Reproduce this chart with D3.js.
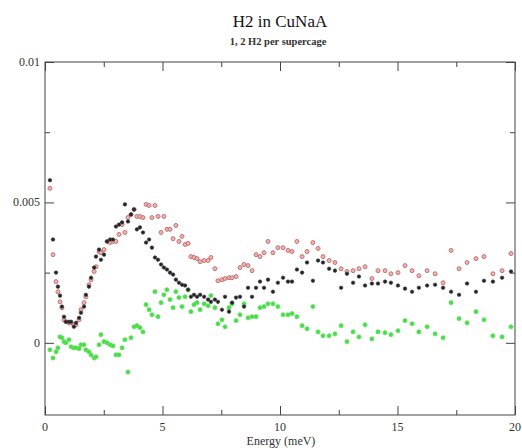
<!DOCTYPE html>
<html>
<head>
<meta charset="utf-8">
<script src="https://cdn.jsdelivr.net/npm/d3@7"></script>
<style>
  body { margin: 0; background: #fff; }
  svg { display: block; }
</style>
</head>
<body>
<svg id="chart" width="522" height="448"></svg>
<script>
// energy grid (meV), shared by the three runs
const energy = [
  0.21, 0.34, 0.47, 0.55, 0.64, 0.72, 0.81, 0.89, 1.02, 1.11,
  1.23, 1.32, 1.45, 1.53, 1.66, 1.74, 1.87, 1.96, 2.09, 2.17,
  2.30, 2.38, 2.51, 2.64, 2.77, 2.89, 3.02, 3.15, 3.28, 3.40,
  3.53, 3.66, 3.79, 3.91, 4.04, 4.17, 4.30, 4.43, 4.55, 4.68,
  4.81, 4.94, 5.06, 5.19, 5.32, 5.45, 5.57, 5.70, 5.83, 5.96,
  6.09, 6.21, 6.34, 6.47, 6.60, 6.77, 6.94, 7.06, 7.23, 7.36,
  7.53, 7.66, 7.83, 7.96, 8.13, 8.30, 8.47, 8.64, 8.81, 8.98,
  9.15, 9.32, 9.49, 9.70, 9.91, 10.13, 10.34, 10.51, 10.72, 10.94,
  11.15, 11.40, 11.62, 11.83, 12.09, 12.34, 12.60, 12.85, 13.11, 13.36,
  13.62, 13.91, 14.17, 14.47, 14.72, 15.02, 15.32, 15.62, 15.91, 16.26,
  16.60, 16.94, 17.28, 17.62, 17.96, 18.34, 18.68, 19.06, 19.45, 19.83
];

const blackValues = [
  0.00579, 0.00368, 0.00250, 0.00200, 0.00168, 0.00129, 0.00093, 0.00075, 0.00075, 0.00075,
  0.00057, 0.00071, 0.00089, 0.00107, 0.00129, 0.00171, 0.00200, 0.00232, 0.00268, 0.00307,
  0.00332, 0.00296, 0.00314, 0.00361, 0.00368, 0.00368, 0.00414, 0.00421, 0.00429, 0.00493,
  0.00432, 0.00457, 0.00475, 0.00404, 0.00411, 0.00393, 0.00357, 0.00368, 0.00339, 0.00304,
  0.00296, 0.00279, 0.00268, 0.00261, 0.00250, 0.00243, 0.00225, 0.00214, 0.00207, 0.00204,
  0.00189, 0.00164, 0.00171, 0.00164, 0.00171, 0.00164, 0.00154, 0.00146, 0.00154, 0.00146,
  0.00118, 0.00164, 0.00111, 0.00143, 0.00161, 0.00164, 0.00129, 0.00196, 0.00164, 0.00196,
  0.00218, 0.00196, 0.00225, 0.00182, 0.00214, 0.00232, 0.00218, 0.00218, 0.00261, 0.00250,
  0.00286, 0.00221, 0.00293, 0.00286, 0.00264, 0.00257, 0.00196, 0.00246, 0.00214, 0.00236,
  0.00204, 0.00211, 0.00211, 0.00218, 0.00214, 0.00204, 0.00193, 0.00182, 0.00196, 0.00204,
  0.00207, 0.00196, 0.00182, 0.00171, 0.00211, 0.00182, 0.00221, 0.00218, 0.00232, 0.00254
];

const redValues = [
  0.00550, 0.00314, 0.00218, 0.00182, 0.00146, 0.00125, 0.00082, 0.00075, 0.00071, 0.00071,
  0.00064, 0.00064, 0.00082, 0.00118, 0.00143, 0.00164, 0.00207, 0.00225, 0.00254, 0.00271,
  0.00325, 0.00321, 0.00332, 0.00361, 0.00357, 0.00361, 0.00361, 0.00386, 0.00421, 0.00393,
  0.00446, 0.00457, 0.00475, 0.00450, 0.00450, 0.00446, 0.00493, 0.00489, 0.00446, 0.00489,
  0.00450, 0.00393, 0.00450, 0.00404, 0.00404, 0.00371, 0.00418, 0.00361, 0.00379, 0.00350,
  0.00354, 0.00307, 0.00304, 0.00300, 0.00289, 0.00293, 0.00293, 0.00304, 0.00264, 0.00221,
  0.00225, 0.00229, 0.00232, 0.00232, 0.00236, 0.00268, 0.00279, 0.00275, 0.00257, 0.00314,
  0.00307, 0.00321, 0.00361, 0.00321, 0.00339, 0.00339, 0.00329, 0.00325, 0.00361, 0.00307,
  0.00325, 0.00357, 0.00336, 0.00307, 0.00293, 0.00286, 0.00264, 0.00254, 0.00257, 0.00264,
  0.00271, 0.00229, 0.00257, 0.00257, 0.00246, 0.00250, 0.00275, 0.00257, 0.00239, 0.00257,
  0.00246, 0.00214, 0.00329, 0.00264, 0.00286, 0.00300, 0.00307, 0.00246, 0.00257, 0.00318
];

const greenValues = [
  -0.00025, -0.00054, -0.00032, -0.00018, 0.00021, 0.00018, 0.00004, 0.00000, 0.00011, -0.00014,
  -0.00018, -0.00018, -0.00021, -0.00007, -0.00007, -0.00025, -0.00032, -0.00043, -0.00054, -0.00050,
  -0.00007, 0.00029, 0.00004, 0.00000, -0.00007, -0.00011, -0.00043, -0.00043, -0.00018, 0.00011,
  -0.00104, 0.00018, 0.00057, 0.00061, 0.00054, 0.00039, 0.00136, 0.00118, 0.00100, 0.00182,
  0.00093, 0.00143, 0.00171, 0.00189, 0.00154, 0.00125, 0.00182, 0.00161, 0.00129, 0.00164,
  0.00189, 0.00111, 0.00136, 0.00143, 0.00118, 0.00139, 0.00132, 0.00168, 0.00125, 0.00068,
  0.00082, 0.00057, 0.00125, 0.00139, 0.00079, 0.00100, 0.00139, 0.00089, 0.00093, 0.00093,
  0.00125, 0.00129, 0.00139, 0.00139, 0.00129, 0.00100, 0.00100, 0.00104, 0.00093, 0.00061,
  0.00050, 0.00129, 0.00039, 0.00025, 0.00025, 0.00032, 0.00061, 0.00004, 0.00039, 0.00021,
  0.00064, 0.00014, 0.00039, 0.00036, 0.00029, 0.00043, 0.00079, 0.00068, 0.00039, 0.00057,
  0.00032, 0.00018, 0.00143, 0.00086, 0.00071, 0.00111, 0.00082, 0.00025, 0.00021, 0.00057
];

const xMajorTicks = [0, 5, 10, 15, 20];
const xMinorTicks = [2.5, 7.5, 12.5, 17.5];
const yMajorTicks = [0, 0.005, 0.01];
const yMinorTicks = [0.0025, 0.0075];

const svg = d3.select('#chart');
const margin = { left: 45, right: 7, top: 62, bottom: 33 };
const width = 522, height = 448;

const x = d3.scaleLinear()
  .domain([0, 20])
  .range([margin.left, width - margin.right]);

const y = d3.scaleLinear()
  .domain([-0.00257, 0.01])
  .range([height - margin.bottom, margin.top]);

svg.append('rect')
  .attr('width', width)
  .attr('height', height)
  .attr('fill', '#fff');

// titles
svg.append('text')
  .attr('x', 280)
  .attr('y', 27)
  .attr('text-anchor', 'middle')
  .style('font-family', 'Liberation Serif')
  .style('font-size', '17px')
  .attr('fill', '#111')
  .text('H2 in CuNaA');

svg.append('text')
  .attr('x', 278)
  .attr('y', 45)
  .attr('text-anchor', 'middle')
  .style('font-family', 'Liberation Serif')
  .style('font-size', '10.5px')
  .attr('font-weight', 700)
  .attr('fill', '#333')
  .text('1, 2 H2 per supercage');

// points
const g = svg.append('g');

function drawSeries(values, r, fill, stroke, sw) {
  g.append('g')
    .selectAll('circle')
    .data(energy.map((e, i) => [e, values[i]]))
    .enter().append('circle')
    .attr('cx', d => x(d[0]))
    .attr('cy', d => y(d[1]))
    .attr('r', r)
    .attr('fill', fill)
    .attr('stroke', stroke)
    .attr('stroke-width', sw);
}

drawSeries(greenValues, 2.1, '#48dc48', '#66e066', 0.8);
drawSeries(redValues, 2.0, '#eab4b4', '#c06868', 0.9);
drawSeries(blackValues, 1.8, '#222', '#444', 0.6);

// frame and inward ticks, on all four sides
const axisColor = '#444';

svg.append('rect')
  .attr('x', x(0))
  .attr('y', y(0.01))
  .attr('width', x(20) - x(0))
  .attr('height', y.range()[0] - y(0.01))
  .attr('fill', 'none')
  .attr('stroke', axisColor)
  .attr('stroke-width', 1);

const xBottom = d3.axisBottom(x).tickValues(xMajorTicks).tickSize(-9).tickFormat('');
const xBottomMinor = d3.axisBottom(x).tickValues(xMinorTicks).tickSize(-5).tickFormat('');
const xTop = d3.axisTop(x).tickValues(xMajorTicks).tickSize(-9).tickFormat('');
const xTopMinor = d3.axisTop(x).tickValues(xMinorTicks).tickSize(-5).tickFormat('');
const yLeft = d3.axisLeft(y).tickValues(yMajorTicks).tickSize(-9).tickFormat('');
const yLeftMinor = d3.axisLeft(y).tickValues(yMinorTicks).tickSize(-5).tickFormat('');
const yRight = d3.axisRight(y).tickValues(yMajorTicks).tickSize(-9).tickFormat('');
const yRightMinor = d3.axisRight(y).tickValues(yMinorTicks).tickSize(-5).tickFormat('');

const bottomY = y.range()[0];
[
  [xBottom, `translate(0,${bottomY})`],
  [xBottomMinor, `translate(0,${bottomY})`],
  [xTop, `translate(0,${y(0.01)})`],
  [xTopMinor, `translate(0,${y(0.01)})`],
  [yLeft, `translate(${x(0)},0)`],
  [yLeftMinor, `translate(${x(0)},0)`],
  [yRight, `translate(${x(20)},0)`],
  [yRightMinor, `translate(${x(20)},0)`]
].forEach(([ax, tr]) => {
  const a = svg.append('g').attr('transform', tr).call(ax);
  a.select('.domain').remove();
  a.selectAll('line').attr('stroke', axisColor);
});

// tick labels
svg.append('g')
  .selectAll('text')
  .data(xMajorTicks)
  .enter().append('text')
  .attr('x', d => x(d))
  .attr('y', bottomY + 16)
  .attr('text-anchor', 'middle')
  .style('font-family', 'Liberation Serif')
  .style('font-size', '12px')
  .attr('fill', '#333')
  .text(d => d);

svg.append('g')
  .selectAll('text')
  .data(yMajorTicks)
  .enter().append('text')
  .attr('x', x(0) - 5)
  .attr('y', d => y(d) + 4)
  .attr('text-anchor', 'end')
  .style('font-family', 'Liberation Serif')
  .style('font-size', '12px')
  .attr('fill', '#333')
  .text(d => d);

svg.append('text')
  .attr('x', 281)
  .attr('y', 445)
  .attr('text-anchor', 'middle')
  .style('font-family', 'Liberation Serif')
  .style('font-size', '12px')
  .attr('fill', '#333')
  .text('Energy (meV)');
</script>
</body>
</html>
